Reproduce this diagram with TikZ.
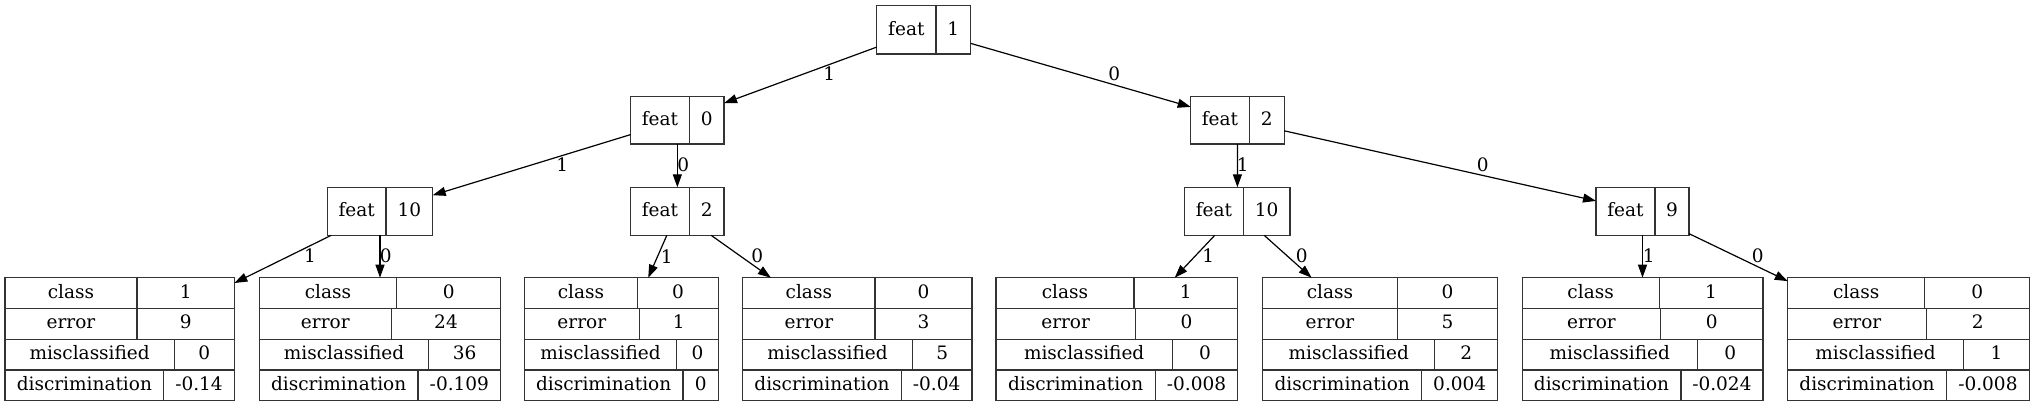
\documentclass[tikz,border=0pt]{standalone}
\usepackage{fontspec}
\setmainfont{DejaVu Serif}
\usetikzlibrary{arrows.meta}
\tikzset{
  x=1pt, y=-1pt,
  recbox/.style={draw=black!80, line width=1.2pt, inner sep=0pt, outer sep=0pt, rectangle},
  cellline/.style={draw=black!80, line width=1.2pt},
  celltxt/.style={inner sep=0pt, anchor=base, font=\fontsize{18.5}{22}\selectfont},
  edgelbl/.style={inner sep=0pt, anchor=center, font=\fontsize{18.5}{22}\selectfont},
  edge/.style={draw=black, line width=1.2pt, -{Triangle[length=13pt,width=9pt]}},
}
\newcommand{\featrec}[7]{%
  \node[recbox, minimum width={(#3-#2)*1pt}, minimum height={(#5-#4)*1pt}] (#1) at ({(#2+#3)/2},{(#4+#5)/2}) {};
  \draw[cellline] (#6,#4) -- (#6,#5);
  \node[celltxt] (#1k) at ({(#2+#6)/2},{(#4+#5)/2+5.5}) {feat};
  \node[celltxt] (#1v) at ({(#6+#3)/2},{(#4+#5)/2+5.5}) {#7};
}
\newcommand{\leafrec}[3]{%
  \node[recbox, minimum width={(#3-#2)*1pt}, minimum height=123pt] (#1) at ({(#2+#3)/2},339.2) {};
}
\newcommand{\leafrow}[7]{%
  \pgfmathsetmacro{\lfyt}{277.7+(#2-1)*30.75}%
  \pgfmathsetmacro{\lfyb}{\lfyt+30.75}%
  \pgfmathsetmacro{\lfyc}{\lfyt+15.375+5}%
  \ifnum#2>1 \draw[cellline] (#3,\lfyt) -- (#4,\lfyt);\fi
  \draw[cellline] (#5,\lfyt) -- (#5,\lfyb);
  \node[celltxt] (#1k#2) at ({(#3+#5)/2},\lfyc) {#6};
  \node[celltxt] (#1v#2) at ({(#5+#4)/2},\lfyc) {#7};
}
\begin{document}
\begin{tikzpicture}
\useasboundingbox (0,0) rectangle (2034,407);
% feature nodes
\featrec{r}{876.7}{970.7}{5.7}{54}{936}{1}
\featrec{a}{630.7}{724}{96.7}{144}{689.3}{0}
\featrec{b}{1190.7}{1284.3}{96.7}{144}{1249.3}{2}
\featrec{c}{327.3}{432.7}{187.3}{235.3}{386}{10}
\featrec{d}{630.7}{724}{187.3}{235.3}{689.3}{2}
\featrec{e}{1184.7}{1290}{187.3}{235.3}{1243.3}{10}
\featrec{f}{1596}{1689}{187.3}{235.3}{1655}{9}
% leaves
\leafrec{La}{5}{234.3}
\leafrow{La}{1}{5}{234.3}{137}{class}{1}
\leafrow{La}{2}{5}{234.3}{137}{error}{9}
\leafrow{La}{3}{5}{234.3}{174.3}{misclassified}{0}
\leafrow{La}{4}{5}{234.3}{163.7}{discrimination}{-0.14}
\leafrec{Lb}{259.3}{500.7}
\leafrow{Lb}{1}{259.3}{500.7}{396.7}{class}{0}
\leafrow{Lb}{2}{259.3}{500.7}{391.3}{error}{24}
\leafrow{Lb}{3}{259.3}{500.7}{428.7}{misclassified}{36}
\leafrow{Lb}{4}{259.3}{500.7}{418}{discrimination}{-0.109}
\leafrec{Lc}{524.3}{718.3}
\leafrow{Lc}{1}{524.3}{718.3}{637.7}{class}{0}
\leafrow{Lc}{2}{524.3}{718.3}{639.3}{error}{1}
\leafrow{Lc}{3}{524.3}{718.3}{676.7}{misclassified}{0}
\leafrow{Lc}{4}{524.3}{718.3}{683}{discrimination}{0}
\leafrec{Ld}{742.7}{972}
\leafrow{Ld}{1}{742.7}{972}{875}{class}{0}
\leafrow{Ld}{2}{742.7}{972}{875}{error}{3}
\leafrow{Ld}{3}{742.7}{972}{912.3}{misclassified}{5}
\leafrow{Ld}{4}{742.7}{972}{901.3}{discrimination}{-0.04}
\leafrec{Le}{996}{1237.7}
\leafrow{Le}{1}{996}{1237.7}{1134}{class}{1}
\leafrow{Le}{2}{996}{1237.7}{1135.3}{error}{0}
\leafrow{Le}{3}{996}{1237.7}{1172.3}{misclassified}{0}
\leafrow{Le}{4}{996}{1237.7}{1155.3}{discrimination}{-0.008}
\leafrec{Lf}{1262.7}{1497.7}
\leafrow{Lf}{1}{1262.7}{1497.7}{1397.3}{class}{0}
\leafrow{Lf}{2}{1262.7}{1497.7}{1397.3}{error}{5}
\leafrow{Lf}{3}{1262.7}{1497.7}{1434.7}{misclassified}{2}
\leafrow{Lf}{4}{1262.7}{1497.7}{1421.7}{discrimination}{0.004}
\leafrec{Lg}{1522.1}{1762.9}
\leafrow{Lg}{1}{1522.1}{1762.9}{1659.1}{class}{1}
\leafrow{Lg}{2}{1522.1}{1762.9}{1660.8}{error}{0}
\leafrow{Lg}{3}{1522.1}{1762.9}{1697.5}{misclassified}{0}
\leafrow{Lg}{4}{1522.1}{1762.9}{1680.9}{discrimination}{-0.024}
\leafrec{Lh}{1787.8}{2029.6}
\leafrow{Lh}{1}{1787.8}{2029.6}{1924.7}{class}{0}
\leafrow{Lh}{2}{1787.8}{2029.6}{1926.1}{error}{2}
\leafrow{Lh}{3}{1787.8}{2029.6}{1963.2}{misclassified}{1}
\leafrow{Lh}{4}{1787.8}{2029.6}{1946.2}{discrimination}{-0.008}
% edges
\draw[edge] (r) -- (a);
\draw[edge] (r) -- (b);
\draw[edge] (a) -- (c);
\draw[edge] (a) -- (d);
\draw[edge] (b) -- (e);
\draw[edge] (b) -- (f);
\draw[edge] (c) -- (La);
\draw[edge] (c) -- (Lb);
\draw[edge] (d) -- (Lc);
\draw[edge] (d) -- (Ld);
\draw[edge] (e) -- (Le);
\draw[edge] (e) -- (Lf);
\draw[edge] (f) -- (Lg);
\draw[edge] (f) -- (Lh);
% edge labels
\node[edgelbl] (t1) at (829.3,74) {1};
\node[edgelbl] (t2) at (1114.3,73.3) {0};
\node[edgelbl] (t3) at (562.3,165) {1};
\node[edgelbl] (t4) at (683.3,165) {0};
\node[edgelbl] (t5) at (1242.7,165) {1};
\node[edgelbl] (t6) at (1482.7,165) {0};
\node[edgelbl] (t7) at (310,256) {1};
\node[edgelbl] (t8) at (385.7,256) {0};
\node[edgelbl] (t9) at (666.7,256.7) {1};
\node[edgelbl] (t10) at (757.3,256) {0};
\node[edgelbl] (t11) at (1208.3,255.5) {1};
\node[edgelbl] (t12) at (1301.7,255.5) {0};
\node[edgelbl] (t13) at (1648.8,256) {1};
\node[edgelbl] (t14) at (1757.8,256) {0};
\end{tikzpicture}
\end{document}
